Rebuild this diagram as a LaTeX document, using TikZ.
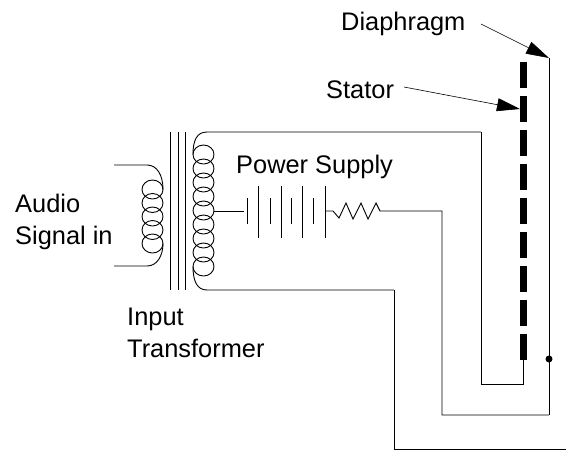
\documentclass[tikz,border=0pt]{standalone}
\usepackage{fontspec}
\setmainfont{Liberation Sans}
\usetikzlibrary{arrows.meta}
\begin{document}
\begin{tikzpicture}[
    x=1pt, y=-1pt,
    wire/.style={draw, line width=0.9pt},
    label/.style={anchor=base west, inner sep=0pt, font=\fontsize{25.4}{30}\selectfont},
    pointer/.style={draw, line width=0.6pt, -{Triangle[length=23pt, width=13pt]}},
    stator/.style={draw, line width=7pt, dash pattern=on 26pt off 8pt}
]
\useasboundingbox (0,0) rectangle (566,451);

\node (Diaphragm) [label] at (341,30) {Diaphragm};
\node (Stator) [label] at (326,98) {Stator};
\node (Supply) [label] at (236,173) {Power Supply};
\node (Audio) [label] at (15,212) {Audio};
\node (Signal) [label] at (15,244) {Signal in};
\node (Input) [label] at (127,325) {Input};
\node (Transformer) [label] at (127,357) {Transformer};

\coordinate (DiaTail) at (481,24);
\coordinate (DiaTop) at (549,58);
\coordinate (DiaDot) at (549,359);
\coordinate (DiaLow) at (549,415);
\coordinate (StaTail) at (404,87);
\coordinate (StaTip) at (520,109);
\coordinate (StaTop) at (523,62);
\coordinate (StaLow) at (523,360);
\coordinate (StaFoot) at (523,384);
\coordinate (StaLeft) at (481,384);
\coordinate (StaCorner) at (481,132);
\coordinate (SecTop) at (193,154.5);
\coordinate (SecLow) at (193,266.5);
\coordinate (SecTap) at (214,211);
\coordinate (SecCorner) at (394,290);
\coordinate (OutCorner) at (394,449);
\coordinate (OutEnd) at (566,449);
\coordinate (PriTop) at (163,189.5);
\coordinate (PriLow) at (163,243.5);
\coordinate (SigTop) at (114,165);
\coordinate (SigLow) at (114,266);
\coordinate (BatLeft) at (244,211);
\coordinate (BatRight) at (325,211);
\coordinate (ResLeft) at (333,211);
\coordinate (ResRight) at (380,211);
\coordinate (ResCorner) at (442,211);
\coordinate (ResLow) at (442,415);

% input transformer
\foreach \corex in {170,178,185}
  \draw [wire] (\corex,132) -- (\corex,290);

\foreach \turn in {0,...,4}
  \draw [wire] (152.5,189.5+13.5*\turn) ellipse (10.5 and 9.5);
\foreach \turn in {0,...,8}
  \draw [wire] (203.5,154.5+14*\turn) ellipse (10.5 and 9.5);

\draw [wire] (SigTop) -- (147,165) .. controls (157,165) and (163,175) .. (PriTop);
\draw [wire] (SigLow) -- (147,266) .. controls (157,266) and (163,256) .. (PriLow);
\draw [wire] (SecTop) .. controls (193,140) and (197,132) .. (207,132) -- (StaCorner);
\draw [wire] (SecLow) .. controls (193,281) and (197,290) .. (207,290) -- (SecCorner);

% power supply
\draw [wire] (SecTap) -- (BatLeft);
\foreach \platex in {258,281,302.5,325}
  \draw [wire] (\platex,186) -- (\platex,238);
\foreach \platex in {247,270,291.5,313.5}
  \draw [wire] (\platex,198) -- (\platex,224);
\draw [wire] (BatRight) -- (ResLeft) -- (339,218) -- (346,203) -- (353,219)
  -- (361,203) -- (368,219) -- (376,203) -- (ResRight) -- (ResCorner) -- (ResLow) -- (DiaLow);

% stator and diaphragm
\draw [stator] (StaTop) -- (StaLow);
\draw [wire] (StaLow) -- (StaFoot) -- (StaLeft) -- (StaCorner);
\draw [wire] (DiaTop) -- (DiaLow);
\fill (DiaDot) circle (3.5);
\draw [wire] (SecCorner) -- (OutCorner) -- (OutEnd);

\draw [pointer] (DiaTail) -- (DiaTop);
\draw [pointer] (StaTail) -- (StaTip);

\end{tikzpicture}
\end{document}
